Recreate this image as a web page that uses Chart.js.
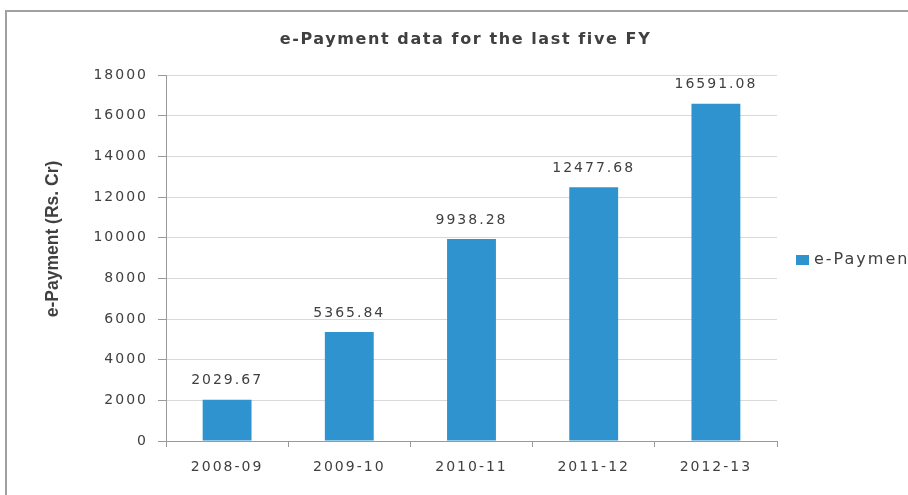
<!DOCTYPE html>
<html>
<head>
<meta charset="utf-8">
<script src="https://cdn.jsdelivr.net/npm/chart.js@4.4.1/dist/chart.umd.min.js"></script>
<style>
  html, body { margin: 0; padding: 0; background: #ffffff; }
  #wrap { width: 908px; height: 495px; position: relative; }
</style>
</head>
<body>
<div id="wrap"><canvas id="chart" width="908" height="495"></canvas></div>
<script>
// Fiscal years and e-payment totals (Rs. crore)
const fiscalYears = ['2008-09', '2009-10', '2010-11', '2011-12', '2012-13'];
const paymentValues = [2029.67, 5365.84, 9938.28, 12477.68, 16591.08];
const seriesName = 'e-Payment';
const chartTitle = 'e-Payment data for the last five FY';
const yAxisTitle = 'e-Payment (Rs. Cr)';
const yMin = 0, yMax = 18000, yStep = 2000;

const BAR_COLOR = '#2f93cf';
const TEXT_COLOR = '#404040';
const FONT = 'DejaVu Sans';
const SPACING = '2px';

// widen glyph spacing for the tick text
const spacingPlugin = {
  id: 'spacing',
  beforeUpdate(chart) { chart.ctx.letterSpacing = SPACING; },
  beforeDraw(chart) { chart.ctx.letterSpacing = SPACING; }
};

// frame, chart title and vertical axis title
const framePlugin = {
  id: 'frame',
  beforeDraw(chart) {
    const ctx = chart.ctx;
    const area = chart.chartArea;
    ctx.save();
    ctx.strokeStyle = '#a0a0a0';
    ctx.lineWidth = 2;
    ctx.strokeRect(6, 11, 930, 500);

    ctx.fillStyle = TEXT_COLOR;
    ctx.textAlign = 'center';
    ctx.textBaseline = 'middle';
    ctx.letterSpacing = '1.6px';
    ctx.font = 'bold 16px "' + FONT + '"';
    ctx.fillText(chartTitle, (area.left + area.right) / 2 - 6, 40);

    ctx.letterSpacing = '0px';
    ctx.translate(53, 239);
    ctx.rotate(-Math.PI / 2);
    ctx.font = 'bold 17.5px "Liberation Sans"';
    ctx.fillText(yAxisTitle, 0, 0);
    ctx.restore();
  }
};

// value labels above each bar
const valueLabels = {
  id: 'valueLabels',
  afterDatasetsDraw(chart) {
    const ctx = chart.ctx;
    const meta = chart.getDatasetMeta(0);
    ctx.save();
    ctx.letterSpacing = SPACING;
    ctx.font = '14px "' + FONT + '"';
    ctx.fillStyle = TEXT_COLOR;
    ctx.textAlign = 'center';
    ctx.textBaseline = 'middle';
    meta.data.forEach((bar, i) => {
      ctx.fillText(paymentValues[i].toFixed(2), bar.x, bar.y - 19);
    });
    ctx.restore();
  }
};

// series key on the right side
const sideLegend = {
  id: 'sideLegend',
  afterDraw(chart) {
    const ctx = chart.ctx;
    const ds = chart.data.datasets[0];
    const cy = 260;
    ctx.save();
    ctx.letterSpacing = SPACING;
    ctx.fillStyle = ds.backgroundColor;
    ctx.fillRect(796, cy - 5, 13, 10);
    ctx.font = '16px "' + FONT + '"';
    ctx.fillStyle = TEXT_COLOR;
    ctx.textAlign = 'left';
    ctx.textBaseline = 'middle';
    ctx.fillText(ds.label, 814, cy);
    ctx.restore();
  }
};

new Chart(document.getElementById('chart'), {
  type: 'bar',
  data: {
    labels: fiscalYears,
    datasets: [{
      label: seriesName,
      data: paymentValues,
      backgroundColor: BAR_COLOR,
      borderWidth: 0,
      barPercentage: 0.4,
      categoryPercentage: 1.0
    }]
  },
  options: {
    responsive: false,
    animation: false,
    devicePixelRatio: 1,
    layout: { padding: { left: 30, right: 131, top: 75, bottom: 0 } },
    plugins: {
      legend: { display: false },
      tooltip: { enabled: false },
      title: { display: false }
    },
    scales: {
      x: {
        grid: { display: true, drawOnChartArea: false, offset: true, tickLength: 6, color: '#9a9a9a' },
        border: { color: '#9a9a9a' },
        ticks: { color: TEXT_COLOR, font: { family: FONT, size: 14 }, padding: 12 },
        afterFit(scale) { scale.height = 54; }
      },
      y: {
        min: yMin,
        max: yMax,
        ticks: {
          stepSize: yStep,
          color: TEXT_COLOR,
          font: { family: FONT, size: 14 },
          padding: 10,
          callback: (v) => String(v)
        },
        grid: { color: '#d9d9d9', tickLength: 8, tickColor: '#9a9a9a' },
        border: { color: '#9a9a9a' },
        afterFit(scale) { scale.width = 136; }
      }
    }
  },
  plugins: [spacingPlugin, framePlugin, valueLabels, sideLegend]
});
</script>
</body>
</html>
